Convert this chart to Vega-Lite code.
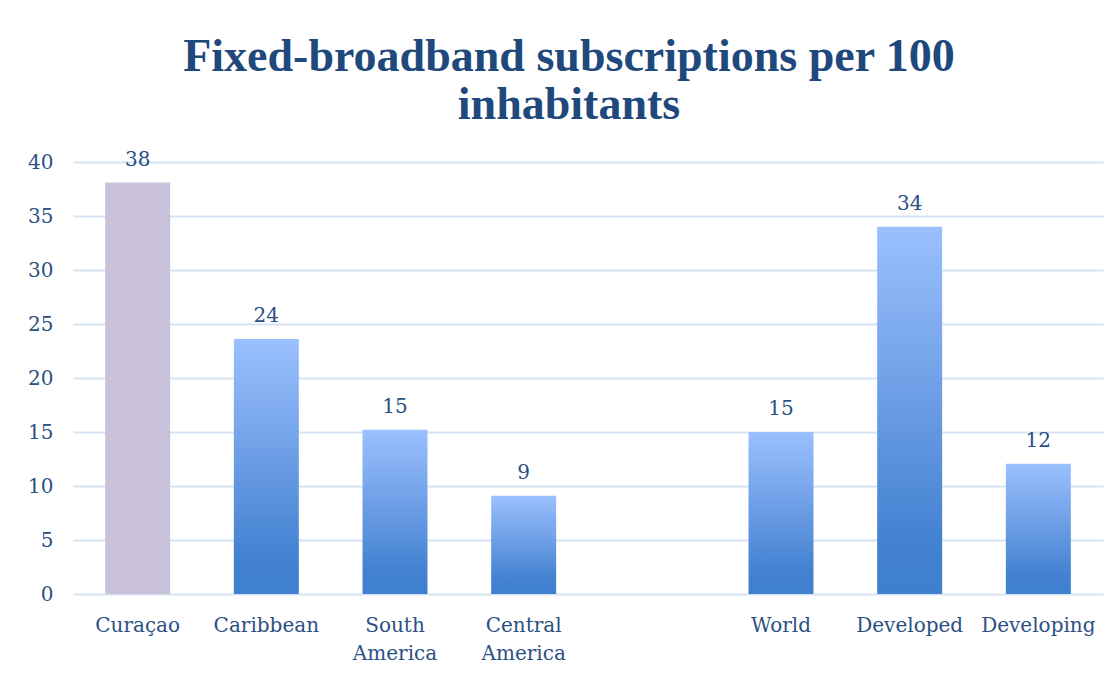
{
  "$schema": "https://vega.github.io/schema/vega-lite/v6.json",
  "autosize": {"type": "none"},
  "width": 1030,
  "height": 432,
  "padding": {"left": 73, "top": 162, "right": 17, "bottom": 83},
  "background": "white",
  "title": {
    "text": ["Fixed-broadband subscriptions per 100", "inhabitants"],
    "font": "Liberation Serif",
    "fontSize": 46,
    "fontWeight": "bold",
    "color": "#1f497d",
    "anchor": "middle",
    "frame": "group",
    "dx": -19,
    "offset": 21,
    "lineHeight": 48
  },
  "config": {
    "view": {"stroke": null},
    "axis": {"labelFont": "DejaVu Serif", "labelFontSize": 20, "labelColor": "#2b5083"}
  },
  "data": {
    "values": [
      {"region": "Curaçao", "value": 38.1, "group": "focus"},
      {"region": "Caribbean", "value": 23.6, "group": "other"},
      {"region": "South America", "value": 15.2, "group": "other"},
      {"region": "Central America", "value": 9.1, "group": "other"},
      {"region": "World", "value": 15.0, "group": "other"},
      {"region": "Developed", "value": 34.0, "group": "other"},
      {"region": "Developing", "value": 12.05, "group": "other"}
    ]
  },
  "encoding": {
    "x": {
      "field": "region",
      "type": "nominal",
      "sort": null,
      "scale": {
        "domain": ["Curaçao", "Caribbean", "South America", "Central America", " ", "World", "Developed", "Developing"],
        "paddingInner": 0.495,
        "paddingOuter": 0.25
      },
      "axis": {
        "title": null,
        "labelAngle": 0,
        "ticks": false,
        "domain": false,
        "labelPadding": 21,
        "labelLineHeight": 28,
        "labelExpr": "split(datum.label, ' ')"
      }
    },
    "y": {
      "field": "value",
      "type": "quantitative",
      "scale": {"domain": [0, 40], "nice": false},
      "axis": {
        "title": null,
        "values": [0, 5, 10, 15, 20, 25, 30, 35, 40],
        "ticks": false,
        "domain": false,
        "grid": true,
        "gridColor": "#d6e3f3",
        "gridWidth": 2,
        "labelPadding": 20
      }
    }
  },
  "layer": [
    {
      "transform": [{"filter": "datum.group === 'focus'"}],
      "mark": {"type": "bar", "color": "#c9c1da"}
    },
    {
      "transform": [{"filter": "datum.group === 'other'"}],
      "mark": {
        "type": "bar",
        "color": {
          "gradient": "linear",
          "x1": 0, "y1": 0, "x2": 0, "y2": 1,
          "stops": [
            {"offset": 0, "color": "#9ac0fe"},
            {"offset": 0.45, "color": "#6e9fe6"},
            {"offset": 0.85, "color": "#4382d1"},
            {"offset": 1, "color": "#3f7fcf"}
          ]
        }
      }
    },
    {
      "mark": {"type": "text", "baseline": "alphabetic", "dy": -17, "font": "DejaVu Serif", "fontSize": 20, "color": "#2b5083"},
      "encoding": {
        "text": {"field": "value", "type": "quantitative", "format": ".0f"}
      }
    }
  ]
}
